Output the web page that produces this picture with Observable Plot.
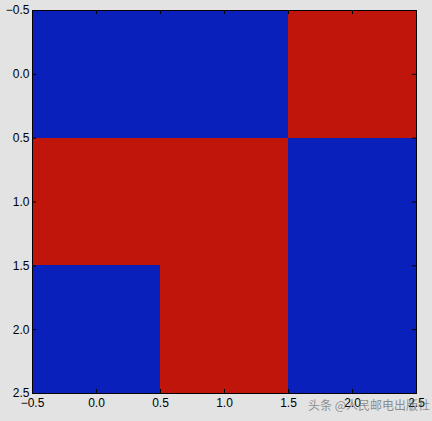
<!DOCTYPE html>
<html>
<head>
<meta charset="utf-8">
<script src="https://cdn.jsdelivr.net/npm/d3@7"></script>
<script src="https://cdn.jsdelivr.net/npm/@observablehq/plot@0.6"></script>
<style>
  html, body { margin: 0; padding: 0; background: #e3e3e3; }
  #wrap { position: relative; width: 432px; height: 421px; }
  #wm { position: absolute; left: 308px; top: 396px; font: 12px "Noto Sans CJK SC", sans-serif; color: rgba(110,110,110,0.75); white-space: nowrap; }
</style>
</head>
<body>
<div id="wrap"><div id="wm">头条 @人民邮电出版社</div></div>
<script>
const rows = [0, 1, 2];
const cols = [0, 1, 2];
const values = [
  [0, 0, 1],
  [1, 1, 0],
  [0, 1, 0]
];
const xTicks = [-0.5, 0.0, 0.5, 1.0, 1.5, 2.0, 2.5];
const yTicks = [-0.5, 0.0, 0.5, 1.0, 1.5, 2.0, 2.5];
const palette = ["#0a20bb", "#c0150a"];

const cells = [];
rows.forEach(r => cols.forEach(c => cells.push({row: r, col: c, v: values[r][c]})));

const fmt = d3.format(".1f");
const tl = 0.032;

const chart = Plot.plot({
  width: 432,
  height: 421,
  marginLeft: 32,
  marginRight: 16,
  marginTop: 10,
  marginBottom: 28,
  style: {background: "#e3e3e3", fontFamily: "'Liberation Sans', Arial, sans-serif", fontSize: "12px", color: "#000"},
  x: {domain: [-0.5, 2.5], ticks: xTicks, tickFormat: fmt, tickSize: 0, tickPadding: 5, label: null},
  y: {domain: [-0.5, 2.5], reverse: true, ticks: yTicks, tickFormat: fmt, tickSize: 0, tickPadding: 3, label: null},
  color: {domain: [0, 1], range: palette, type: "ordinal"},
  marks: [
    Plot.rect(cells, {x1: d => d.col - 0.5, x2: d => d.col + 0.5, y1: d => d.row - 0.5, y2: d => d.row + 0.5, fill: d => d.v, shapeRendering: "crispEdges"}),
    Plot.ruleX(xTicks, {x: d => d, y1: 2.5, y2: 2.5 - tl, stroke: "#000"}),
    Plot.ruleX(xTicks, {x: d => d, y1: -0.5, y2: -0.5 + tl, stroke: "#000"}),
    Plot.ruleY(yTicks, {y: d => d, x1: -0.5, x2: -0.5 + tl, stroke: "#000"}),
    Plot.ruleY(yTicks, {y: d => d, x1: 2.5, x2: 2.5 - tl, stroke: "#000"}),
    Plot.frame({stroke: "#000"})
  ]
});
document.getElementById("wrap").prepend(chart);
</script>
</body>
</html>
